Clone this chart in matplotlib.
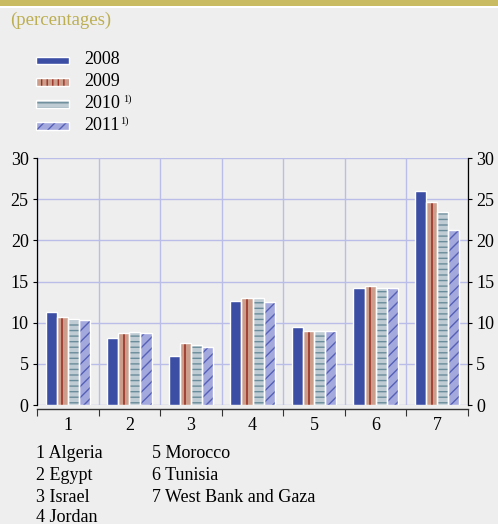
import matplotlib.pyplot as plt
import matplotlib.patches as mpatches
import numpy as np

plt.rcParams['font.family'] = ['Liberation Serif', 'DejaVu Serif']
plt.rcParams['hatch.linewidth'] = 1.0

# data
groups = ['1', '2', '3', '4', '5', '6', '7']
countries = ['1 Algeria', '2 Egypt', '3 Israel', '4 Jordan',
             '5 Morocco', '6 Tunisia', '7 West Bank and Gaza']
years = ['2008', '2009', '2010', '2011']
notes = ['', '', '1)', '1)']
v2008 = [11.3, 8.1, 6.0, 12.6, 9.5, 14.2, 26.0]
v2009 = [10.7, 8.75, 7.5, 13.0, 9.0, 14.45, 24.6]
v2010 = [10.5, 8.9, 7.3, 13.0, 9.0, 14.2, 23.4]
v2011 = [10.3, 8.75, 7.0, 12.5, 9.0, 14.2, 21.3]
series = [v2008, v2009, v2010, v2011]

faces = ['#3c4ea4', '#cc9d8b', '#bfccd4', '#a4a9dd']
hatch_cols = ['#3c4ea4', '#9a3427', '#6b8c9a', '#5560b6']
bar_hatches = [None, None, '---', '///']
leg_hatches = [None, '|||', '---', '///']
bg = '#eeeeee'
grid_col = '#babde8'
olive = '#bcae52'
fs = 13

fig = plt.figure(figsize=(4.98, 5.24), dpi=100)
fig.patch.set_facecolor(bg)
W, H = 498, 524

# top band
fig.patches.append(mpatches.Rectangle((0, 1 - 6 / H), 1, 6 / H, transform=fig.transFigure,
                                      facecolor='#c8bb62', edgecolor='none'))
fig.patches.append(mpatches.Rectangle((0, 1 - 8 / H), 1, 2 / H, transform=fig.transFigure,
                                      facecolor='white', edgecolor='none'))
fig.text(10 / W, 1 - 20 / H, '(percentages)', color=olive, fontsize=fs + 0.5, va='center')

ax = fig.add_axes([37 / W, 1 - 405 / H, 431 / W, 247 / H])
ax.set_facecolor(bg)

x = np.arange(len(groups))
bw = 0.18
for i, vals in enumerate(series):
    pos = x + (i - 1.5) * bw
    ax.bar(pos, vals, bw, color=faces[i], edgecolor=hatch_cols[i], hatch=bar_hatches[i],
           linewidth=0, zorder=3)
    if i == 1:
        # 2009 bars carry a single dark red stripe down the middle
        ax.vlines(pos, 0, vals, color=hatch_cols[i], linewidth=1.2, zorder=3.5)
    ax.bar(pos, vals, bw, fill=False, edgecolor='white', linewidth=1.0, zorder=4)

ax.set_xlim(-0.5, len(groups) - 0.5)
ax.set_ylim(0, 30)
ax.set_yticks(np.arange(0, 31, 5))
ax.set_xticks(x)
ax.set_xticklabels(groups)
ax.set_xticks(np.arange(-0.5, len(groups), 1), minor=True)

ax.grid(True, axis='y', color=grid_col, linewidth=1.0, zorder=0)
ax.grid(True, axis='x', which='minor', color=grid_col, linewidth=1.0, zorder=0)
ax.grid(False, axis='x', which='major')

ax.tick_params(axis='y', left=True, right=True, labelleft=True, labelright=True,
               length=3, width=0.8, labelsize=fs, pad=3, direction='out')
ax.tick_params(axis='x', which='major', length=0, labelsize=fs, pad=6)
ax.tick_params(axis='x', which='minor', length=5, width=0.8, direction='out', color='#333333')

for s in ['left', 'right']:
    ax.spines[s].set_color('black')
    ax.spines[s].set_linewidth(0.9)
ax.spines['top'].set_visible(False)
ax.spines['bottom'].set_position(('outward', 3))
ax.spines['bottom'].set_color('#333333')
ax.spines['bottom'].set_linewidth(1.0)

# legend
leg_y = [61, 82, 104, 126]
renderer = fig.canvas.get_renderer()
for i, yr in enumerate(years):
    yc = 1 - leg_y[i] / H
    fig.patches.append(mpatches.Rectangle((36 / W, yc - 3.5 / H), 33 / W, 7 / H,
                                          transform=fig.transFigure, facecolor=faces[i],
                                          edgecolor=hatch_cols[i], hatch=leg_hatches[i],
                                          linewidth=0))
    fig.patches.append(mpatches.Rectangle((36 / W, yc - 3.5 / H), 33 / W, 7 / H,
                                          transform=fig.transFigure, fill=False,
                                          edgecolor='white', linewidth=1.0))
    t = fig.text(84 / W, yc + 1 / H, yr, fontsize=fs, va='center')
    if notes[i]:
        bb = t.get_window_extent(renderer)
        gap = 3 if i == 2 else 1
        fig.text((bb.x1 + gap) / W, yc + 5 / H, notes[i], fontsize=7.5, va='center')

# country key
key_y = [453, 475, 497, 518]
for j, name in enumerate(countries):
    col = j // 4
    row = j % 4
    fig.text((36 if col == 0 else 152) / W, 1 - key_y[row] / H, name,
             fontsize=fs, va='center')

fig.savefig('out.png', dpi=100, facecolor=bg)
